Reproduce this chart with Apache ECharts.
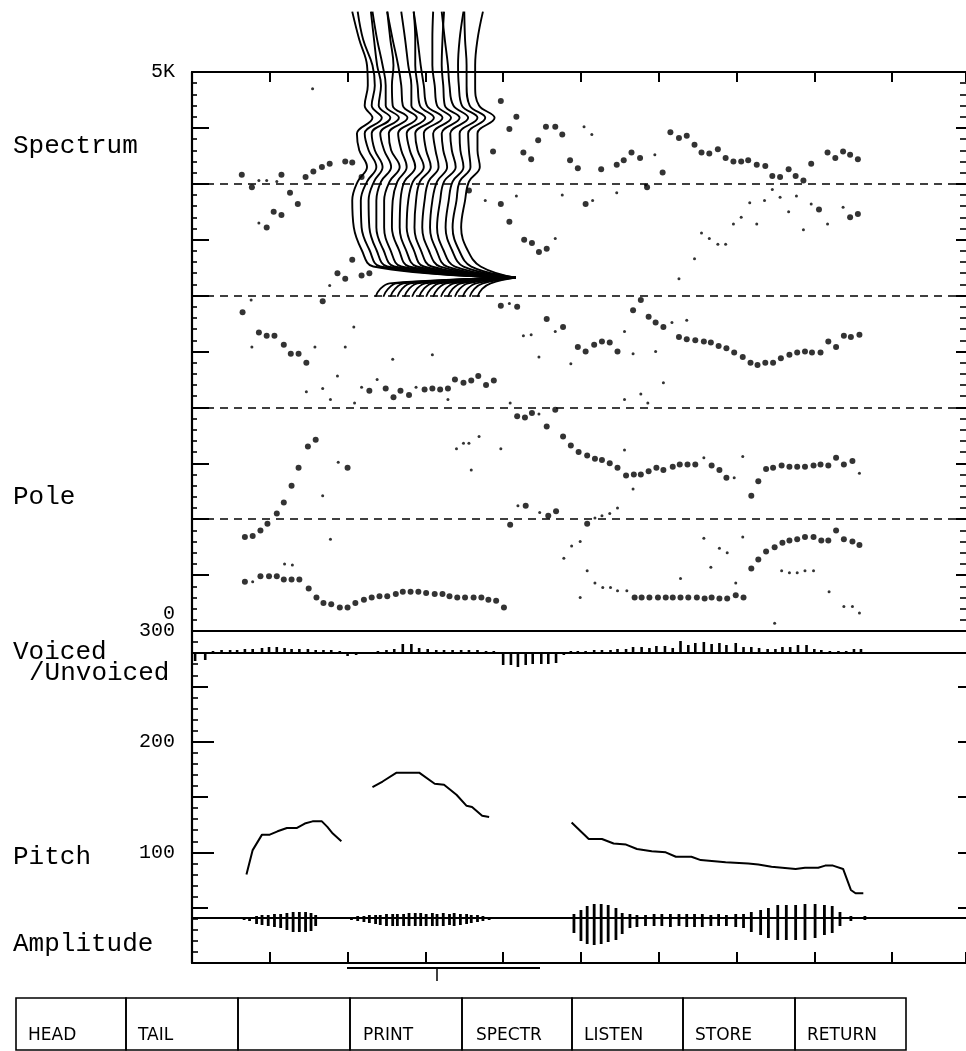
<!DOCTYPE html>
<html><head><meta charset="utf-8">
<script src="https://cdn.jsdelivr.net/npm/echarts@6/dist/echarts.min.js"></script>
<style>html,body{margin:0;padding:0;background:#fff}#c{width:966px;height:1051px}</style>
</head><body><div id="c"></div>
<script>
// ---------------- DATA ----------------
// x is analysis frame index, pole y is frequency in Hz, pitch in Hz
const frameMax = 99.5;
const poleTickLabels = {0: '0', 5000: '5K'};
const pitchTickLabels = [100, 200, 300];
const dashedLevels = [1000, 2000, 3000, 4000];

const poleBig = [
[6.4,4080],[7.7,3970],[9.6,3610],[10.5,3750],[11.5,4080],[11.5,3720],[12.6,3920],[13.6,3820],[14.6,4060],[15.6,4110],[16.7,4150],[17.7,4180],[19.7,4200],[20.6,4190],[21.8,4060],[35.6,3940],
[18.7,3200],[19.7,3150],[20.6,3320],[21.8,3180],[22.8,3200],[16.8,2950],
[38.7,4290],[39.7,4740],[40.8,4490],[41.7,4600],[42.6,4280],[43.6,4220],[44.5,4390],[45.5,4510],[46.7,4510],[47.6,4440],[48.6,4210],[49.6,4140],[52.6,4130],[54.6,4170],[55.5,4210],[56.5,4280],[57.6,4230],[58.5,3970],[60.5,4100],[61.5,4460],[62.6,4410],[63.6,4430],[64.6,4350],[65.5,4280],[66.5,4270],[67.6,4310],[68.6,4230],[69.6,4200],[70.6,4200],[71.5,4210],[72.6,4170],[73.7,4160],[74.6,4070],[75.6,4060],[76.7,4130],[77.6,4070],[78.6,4030],[79.6,4180],[81.7,4280],[82.7,4230],[83.7,4290],[84.6,4260],[85.6,4220],
[39.7,3820],[40.8,3660],[42.7,3500],[43.7,3470],[44.6,3390],[45.6,3420],[50.6,3820],[80.6,3770],[84.6,3700],[85.6,3730],
[6.5,2850],[8.6,2670],[9.6,2640],[10.6,2640],[11.8,2560],[12.7,2480],[13.7,2480],[14.7,2400],[22.8,2150],[24.9,2170],[25.9,2090],[26.8,2150],[27.9,2110],[29.9,2160],[30.9,2170],[31.9,2160],[32.9,2170],[33.8,2250],[34.9,2220],[35.9,2240],[36.8,2280],[37.8,2200],[38.8,2240],
[39.7,2910],[41.8,2900],[45.6,2790],[47.7,2720],[49.6,2540],[50.6,2500],[51.7,2560],[52.7,2590],[53.7,2580],[54.7,2500],[56.7,2870],[57.7,2960],[58.7,2810],[59.6,2760],[60.6,2720],[62.6,2630],[63.6,2610],[64.7,2600],[65.8,2590],[66.7,2580],[67.7,2550],[68.7,2530],[69.7,2490],[70.8,2450],[71.8,2400],[72.7,2380],[73.7,2400],[74.7,2400],[75.7,2440],[76.8,2470],[77.8,2490],[78.8,2500],[79.7,2490],[80.8,2490],[81.8,2590],[82.8,2540],[83.8,2640],[84.7,2630],[85.8,2650],
[10.9,1050],[11.8,1150],[12.8,1300],[13.7,1460],[14.9,1650],[15.9,1710],[20.0,1460],
[41.8,1920],[42.8,1910],[43.7,1950],[45.6,1830],[46.7,1980],[47.7,1740],[48.7,1660],[49.7,1600],[50.8,1570],[51.8,1540],[52.7,1530],[53.7,1500],[54.7,1460],[55.8,1390],[56.8,1400],[57.7,1400],[58.7,1430],[59.7,1460],[60.6,1440],[61.8,1470],[62.7,1490],[63.7,1490],[64.7,1490],[66.8,1480],[67.8,1440],[68.7,1370],[71.9,1210],[72.8,1340],[73.8,1450],[74.7,1460],[75.8,1480],[76.8,1470],[77.8,1470],[78.8,1470],[79.9,1480],[80.8,1490],[81.8,1480],[82.8,1550],[83.8,1490],[84.9,1520],
[6.8,840],[7.8,850],[8.8,900],[9.7,960],[40.9,950],[42.9,1120],[45.8,1030],[46.8,1070],[50.8,960],
[71.9,560],[72.8,640],[73.8,710],[74.9,750],[75.9,790],[76.8,810],[77.8,820],[78.8,840],[79.9,840],[80.9,810],[81.8,810],[82.8,900],[83.8,820],[84.9,800],[85.8,770],
[6.8,440],[8.8,490],[9.9,490],[10.9,490],[11.8,460],[12.8,460],[13.8,460],[15.0,380],[16.0,300],[16.9,250],[17.9,240],[19.0,210],[20.0,210],[21.0,250],[22.1,280],[23.1,300],[24.1,310],[25.1,310],[26.2,330],[27.1,350],[28.1,350],[29.1,350],[30.1,340],[31.2,330],[32.2,330],[33.1,310],[34.1,300],[35.1,300],[36.2,300],[37.2,300],[38.1,280],[39.1,270],[40.1,210],
[56.9,300],[57.8,300],[58.8,300],[59.9,300],[60.9,300],[61.8,300],[62.8,300],[63.8,300],[64.9,300],[65.9,290],[66.8,300],[67.8,290],[68.8,290],[69.9,320],[70.9,300]
];

const poleSmall = [
[15.5,4850],[59.5,4260],[50.4,4510],[51.4,4440],
[37.7,3850],[41.7,3890],[46.7,3510],[47.6,3900],[51.5,3850],[54.6,3920],[65.5,3560],[66.5,3510],[67.6,3460],[68.6,3460],[64.6,3330],[62.6,3150],[69.6,3640],[70.6,3700],[71.7,3830],[72.6,3640],[73.6,3850],[74.6,3950],[75.6,3880],[76.7,3750],[77.7,3890],[78.6,3590],[79.6,3820],[81.7,3640],[83.7,3790],[58.3,3990],[8.6,3650],[8.6,4030],[9.6,4030],[10.9,4020],[17.7,3090],[7.6,2960],
[7.7,2540],[15.8,2540],[14.7,2140],[16.8,2170],[17.8,2070],[18.7,2280],[19.7,2540],[20.8,2720],[21.8,2180],[23.8,2250],[25.8,2430],[28.8,2180],[30.9,2470],[32.9,2070],[20.9,2040],[40.8,2930],[46.7,2680],[42.6,2640],[43.6,2650],[44.6,2450],[55.6,2680],[56.7,2480],[61.7,2760],[63.6,2780],[59.6,2500],[48.7,2390],[60.6,2220],[57.7,2120],[58.6,2040],[55.6,2070],
[40.9,2040],[44.6,1940],[34.0,1630],[34.9,1680],[35.6,1680],[36.9,1740],[35.9,1440],[39.7,1630],[18.8,1510],[16.8,1210],[65.8,1550],[69.7,1370],[70.8,1560],[85.8,1410],[55.6,1620],[56.7,1270],[54.7,1100],[52.7,1030],[53.7,1050],[51.8,1010],
[7.8,440],[11.9,600],[12.9,590],[17.8,820],[41.9,1120],[44.7,1060],[48.8,760],[47.8,650],[49.9,800],[50.8,540],[49.9,300],[51.8,430],[52.8,390],[53.8,390],[54.7,360],[55.9,360],[62.8,470],[65.8,830],[66.7,570],[67.8,740],[68.8,700],[70.8,840],[69.9,430],[75.8,540],[76.8,520],[77.8,520],[78.8,540],[79.9,540],[81.9,350],[83.8,220],[84.9,220],[85.8,160],[74.9,70]
];

// spectrum waterfall: frequency levels (Hz, drawn on the pole scale) and per-curve amplitude offsets (frames)
const specLevels = [2990,3060,3110,3260,3410,3610,3850,4020,4150,4300,4450,4590,4700,4880,5060,5290,5540];
const specTip = [41.6, 3160];
const specBase = [20.6,21.7,22.7,23.7,24.7,25.8,26.8,27.8,28.8,29.9,30.9,31.9,33.0,34.0,35.1];
const specDev = [
[3.0,3.6,4.8,2.7,1.2,0.2,0,0.7,1.9,0.9,0.6,2.6,1.6,2.0,1.9,0.9,0.0],
[2.9,3.5,4.6,2.5,1.1,0.1,0,0.8,2.0,1.0,0.5,2.7,1.4,1.8,1.5,0.3,-0.4],
[2.8,3.4,4.5,2.4,1.0,0.1,0,0.7,1.8,0.8,0.4,2.8,1.3,1.6,1.1,0.7,0.3],
[2.7,3.3,4.4,2.3,0.9,0.0,0,0.6,1.9,1.0,0.5,2.9,1.2,1.2,0.8,0.1,-0.5],
[2.6,3.2,4.3,2.2,0.8,0.0,0,0.7,2.0,0.9,0.6,3.0,1.1,1.0,1.2,0.8,0.4],
[2.5,3.1,4.2,2.1,0.8,-0.1,0,0.6,1.8,1.1,0.7,3.1,1.3,1.1,0.7,0.0,-0.7],
[2.4,3.0,4.1,2.1,0.7,-0.1,0,0.5,1.9,1.2,0.8,3.2,1.4,1.4,1.0,0.6,0.1],
[2.3,2.9,4.0,2.0,0.7,-0.2,0,0.6,2.0,1.2,0.9,3.3,1.5,1.2,0.9,0.9,0.7],
[2.2,2.8,3.9,2.0,0.6,-0.2,0,0.5,1.9,1.3,1.0,3.4,1.4,1.0,0.6,0.2,-0.3],
[2.1,2.7,3.8,2.0,0.5,-0.3,0,0.5,1.8,1.4,1.1,3.4,1.6,1.3,1.0,1.0,1.1],
[2.0,2.6,3.7,1.9,0.5,-0.3,0,0.6,1.9,1.4,1.2,3.5,1.6,1.4,1.2,1.3,1.5],
[1.9,2.5,3.6,1.9,0.4,-0.4,0,0.5,2.0,1.5,1.3,3.6,1.7,1.2,1.0,0.6,0.2],
[1.8,2.4,3.5,1.9,0.4,-0.4,0,0.5,1.9,1.5,1.4,3.7,1.7,1.3,1.2,1.4,1.9],
[1.7,2.3,3.4,1.9,0.3,-0.5,0,0.4,1.8,1.6,1.5,3.7,1.7,1.3,1.3,1.1,1.0],
[1.6,2.2,3.3,2.0,0.3,-0.5,0,0.5,1.9,1.6,1.6,3.8,1.8,1.3,1.3,1.6,2.3]
];

const pitchSeg1 = [[7.0,80],[7.8,102],[9.0,116],[10.0,116],[11.0,119],[12.2,122],[13.5,122],[14.5,126],[15.5,128],[16.7,128],[17.4,123],[18.1,117],[19.2,110]];
const pitchSeg2 = [[23.2,159],[24.5,164],[26.3,172],[29.2,172],[31.2,162],[32.4,161],[34.0,152],[35.3,142],[36.0,141],[37.3,133],[38.2,132]];
const pitchSeg3 = [[48.8,127],[51.0,112],[52.7,112],[54.2,108],[55.8,107],[57.2,103],[59.1,101],[60.9,100],[62.2,96],[64.2,96],[65.4,93],[68.6,91],[71.5,90],[72.8,89],[74.5,87],[77.6,85],[78.8,86],[80.5,86],[81.4,88],[82.4,88],[83.7,85],[84.7,66],[85.3,63],[86.3,63]];

// voiced (+) / unvoiced (-) marks per frame
const vuvMarks = [
[0.4,-8],[1.7,-7],[2.7,2],[3.8,3],[4.9,3],[5.8,3],[6.8,4],[7.8,4],[9.0,5],[9.9,6],[10.9,6],[11.9,5],[12.8,4],[13.8,4],[14.9,4],[15.9,3],[16.9,3],[17.9,3],[19.0,2],[20.0,-3],[21.1,-2],
[23.9,2],[25.0,3],[26.0,4],[27.1,9],[28.2,9],[29.2,5],[30.3,4],[31.4,3],[32.4,3],[33.5,3],[34.6,3],[35.6,3],[36.7,3],[37.8,2],[38.8,2],
[40.0,-12],[41.0,-12],[41.9,-14],[42.9,-12],[43.8,-11],[44.9,-11],[45.8,-11],[46.8,-10],[47.8,-2],
[48.7,2],[49.6,2],[50.6,2],[51.7,3],[52.7,3],[53.8,3],[54.7,4],[55.8,4],[56.7,6],[57.8,6],[58.8,5],[59.7,7],[60.8,7],[61.8,5],[62.8,12],[63.8,8],[64.7,10],[65.8,11],[66.8,9],[67.8,10],[68.7,8],[69.9,10],[70.9,6],[71.9,6],[72.9,5],[74.0,4],[75.0,4],[75.9,6],[76.9,6],[77.9,8],[79.0,8],[80.0,4],[80.9,3],[82.0,2],[83.1,2],[84.1,2],[85.1,4],[86.0,4]
];

// amplitude waveform excursions: [frame, up, down]
const ampPulses = [
[6.7,1,2],[7.4,1,3],[8.3,2,6],[9.0,3,7],[9.8,3,8],[10.6,4,9],[11.4,4,10],[12.2,5,12],[13.0,6,14],[13.8,6,14],[14.6,6,14],[15.3,5,13],[15.9,3,8],
[20.5,1,2],[21.3,2,3],[22.1,2,4],[22.8,3,5],[23.6,3,6],[24.2,3,7],[25.0,4,8],[25.8,4,8],[26.4,4,8],[27.2,4,8],[27.9,5,8],[28.7,5,8],[29.4,5,8],[30.1,4,8],[30.9,5,8],[31.5,4,8],[32.3,5,8],[33.1,4,7],[33.7,5,8],[34.5,4,7],[35.3,4,6],[35.9,3,5],[36.7,3,4],[37.4,2,3],[38.2,1,2],[39.0,1,1],
[49.1,4,15],[50.0,8,23],[50.8,12,26],[51.7,14,27],[52.6,14,26],[53.5,13,24],[54.5,10,22],[55.3,5,16],[56.3,4,10],[57.2,3,9],[58.3,3,8],[59.4,4,8],[60.4,4,8],[61.5,4,9],[62.6,4,8],[63.6,4,9],[64.6,4,9],[65.6,4,9],[66.7,3,8],[67.7,4,8],[68.7,3,8],[69.9,4,9],[70.9,4,10],[71.9,6,14],[73.1,8,17],[74.1,10,20],[75.3,13,22],[76.4,13,22],[77.6,13,22],[78.8,14,22],[80.1,14,20],[81.3,13,17],[82.3,12,15],[83.3,6,8],[84.7,2,3],[86.5,2,2]
];

const sideLabels = ['Spectrum', 'Pole', 'Voiced', '/Unvoiced', 'Pitch', 'Amplitude'];
const buttonLabels = ['HEAD', 'TAIL', '', 'PRINT', 'SPECTR', 'LISTEN', 'STORE', 'RETURN'];

// ---------------- CHART ----------------
const chart = echarts.init(document.getElementById('c'), null, {renderer: 'canvas'});
const mono = 'Liberation Mono';
const black = '#000';
const G = {left: 192, width: 776};

const grids = [
  {left: G.left, width: G.width, top: 72, height: 559},   // pole / spectrum
  {left: G.left, width: G.width, top: 631, height: 332},  // pitch
  {left: G.left, width: G.width, top: 633, height: 40},   // voiced/unvoiced
  {left: G.left, width: G.width, top: 888, height: 60}    // amplitude
];

const hiddenX = (gi) => ({type: 'value', gridIndex: gi, min: 0, max: frameMax,
  axisLine: {show: true, onZero: true, lineStyle: {color: black, width: 2}},
  axisTick: {show: false}, axisLabel: {show: false}, splitLine: {show: false}});

const xAxes = [
  {type: 'value', gridIndex: 0, position: 'top', min: 0, max: frameMax, interval: 10,
   axisLine: {show: true, onZero: false, lineStyle: {color: black, width: 2.2}},
   axisTick: {show: true, inside: true, length: 10, lineStyle: {color: black, width: 2}},
   axisLabel: {show: false}, splitLine: {show: false}},
  {type: 'value', gridIndex: 0, position: 'bottom', min: 0, max: frameMax,
   axisLine: {show: true, onZero: false, lineStyle: {color: black, width: 2.2}},
   axisTick: {show: false}, axisLabel: {show: false}, splitLine: {show: false}},
  {type: 'value', gridIndex: 1, position: 'bottom', min: 0, max: frameMax, interval: 10,
   axisLine: {show: true, onZero: false, lineStyle: {color: black, width: 2.2}},
   axisTick: {show: true, inside: true, length: 11, lineStyle: {color: black, width: 2}},
   axisLabel: {show: false}, splitLine: {show: false}},
  hiddenX(2),
  hiddenX(3)
];

const labelStyle = {color: black, fontFamily: mono, fontSize: 20, margin: 17};
const tickAxis = (gi, pos, max, interval, len, width, extra) => Object.assign({
  type: 'value', gridIndex: gi, position: pos, min: 0, max: max, interval: interval,
  axisLine: {show: false},
  axisTick: {show: true, inside: true, length: len, lineStyle: {color: black, width: width}},
  axisLabel: {show: false}, splitLine: {show: false}
}, extra || {});

const yAxes = [
  // 0: pole left, 500 Hz ticks + labels
  tickAxis(0, 'left', 5000, 500, 17, 2, {
    axisLine: {show: true, lineStyle: {color: black, width: 2.2}},
    axisLabel: Object.assign({}, labelStyle, {
      formatter: v => v === 0 ? '{z|' + poleTickLabels[0] + '}' : (poleTickLabels[v] || ''),
      rich: {z: {fontFamily: mono, fontSize: 20, color: black, padding: [0, 0, 34, 0]}}
    })
  }),
  // 1: pole left, 100 Hz ticks
  tickAxis(0, 'left', 5000, 100, 5, 1.6),
  // 2: pole right, 500 Hz
  tickAxis(0, 'right', 5000, 500, 10, 2),
  // 3: pole right, 100 Hz
  tickAxis(0, 'right', 5000, 100, 6, 1.6),
  // 4: pitch left, hundreds + labels
  tickAxis(1, 'left', 300, 100, 22, 2, {
    axisLine: {show: true, lineStyle: {color: black, width: 2.2}},
    axisLabel: Object.assign({}, labelStyle, {formatter: v => pitchTickLabels.indexOf(v) >= 0 ? String(v) : ''})
  }),
  // 5: pitch left, fifties
  tickAxis(1, 'left', 300, 50, 16, 2),
  // 6: pitch left, tens
  tickAxis(1, 'left', 300, 10, 6, 1.6),
  // 7: pitch right, fifties
  tickAxis(1, 'right', 300, 50, 8, 2),
  // 8: vuv
  {type: 'value', gridIndex: 2, min: -20, max: 20, show: false},
  // 9: amplitude
  {type: 'value', gridIndex: 3, min: -30, max: 30, show: false}
];

const series = [];

series.push({
  type: 'scatter', xAxisIndex: 0, yAxisIndex: 0, data: poleSmall, symbol: 'circle', symbolSize: 3,
  itemStyle: {color: black}, silent: true,
  markLine: {silent: true, symbol: ['none', 'none'], label: {show: false},
    lineStyle: {color: black, width: 1.7, type: [8, 6]},
    data: dashedLevels.map(v => ({yAxis: v}))}
});
series.push({
  type: 'scatter', xAxisIndex: 0, yAxisIndex: 0, data: poleBig, symbol: 'circle', symbolSize: 6,
  itemStyle: {color: black}, silent: true
});

specBase.forEach((b, i) => {
  const d = specDev[i];
  const hook = [[b + d[0], specLevels[0]], [b + d[1], specLevels[1]], [b + d[2], specLevels[2]], specTip];
  const main = [specTip];
  for (let j = 3; j < specLevels.length; j++) main.push([b + d[j], specLevels[j]]);
  series.push({type: 'line', xAxisIndex: 0, yAxisIndex: 0, data: hook, clip: false, smooth: 0.4,
    symbol: 'none', lineStyle: {color: black, width: 1.8}, silent: true, z: 3});
  series.push({type: 'line', xAxisIndex: 0, yAxisIndex: 0, data: main, clip: false, smooth: 0.4,
    symbol: 'none', lineStyle: {color: black, width: 1.9}, silent: true, z: 3});
});

[pitchSeg1, pitchSeg2, pitchSeg3].forEach(seg => {
  series.push({type: 'line', xAxisIndex: 2, yAxisIndex: 4, data: seg, symbol: 'none',
    lineStyle: {color: black, width: 2}, silent: true});
});

series.push({
  type: 'custom', xAxisIndex: 3, yAxisIndex: 8, data: vuvMarks, silent: true,
  encode: {x: 0, y: 1},
  renderItem: (params, api) => {
    const p1 = api.coord([api.value(0), 0]);
    const p2 = api.coord([api.value(0), api.value(1)]);
    return {type: 'line', shape: {x1: p1[0], y1: p1[1], x2: p2[0], y2: p2[1]},
      style: {stroke: black, lineWidth: 2.6}};
  }
});

series.push({
  type: 'custom', xAxisIndex: 4, yAxisIndex: 9, data: ampPulses, silent: true,
  encode: {x: 0, y: 1},
  renderItem: (params, api) => {
    const p1 = api.coord([api.value(0), api.value(1)]);
    const p2 = api.coord([api.value(0), -api.value(2)]);
    return {type: 'line', shape: {x1: p1[0], y1: p1[1], x2: p2[0], y2: p2[1]},
      style: {stroke: black, lineWidth: 2.8}};
  }
});

// side labels, scroll bar and button row
const sidePos = [[13, 146], [13, 497], [13, 652], [29, 673], [13, 857], [13, 944]];
const graphics = sideLabels.map((t, i) => ({
  type: 'text', left: sidePos[i][0], top: sidePos[i][1] - 13,
  style: {text: t, fill: black, font: '26px "Liberation Mono"'}
}));
graphics.push({type: 'line', shape: {x1: 347, y1: 968, x2: 540, y2: 968}, style: {stroke: black, lineWidth: 2}});
graphics.push({type: 'line', shape: {x1: 437, y1: 969, x2: 437, y2: 981}, style: {stroke: black, lineWidth: 1.5}});
const btnEdges = [16, 126, 238, 350, 462, 572, 683, 795, 906];
const btnTextX = [28, 138, 250, 363, 476, 584, 695, 807];
buttonLabels.forEach((t, i) => {
  graphics.push({type: 'rect', shape: {x: btnEdges[i], y: 998, width: btnEdges[i + 1] - btnEdges[i], height: 52},
    style: {fill: 'none', stroke: black, lineWidth: 1.6}});
  if (t) graphics.push({type: 'text', x: btnTextX[i], y: 1036,
    style: {text: t, fill: black, font: '17px "DejaVu Sans"', textVerticalAlign: 'middle'}});
});

chart.setOption({
  animation: false,
  backgroundColor: '#fff',
  grid: grids,
  xAxis: xAxes,
  yAxis: yAxes,
  series: series,
  graphic: graphics
});
</script></body></html>
